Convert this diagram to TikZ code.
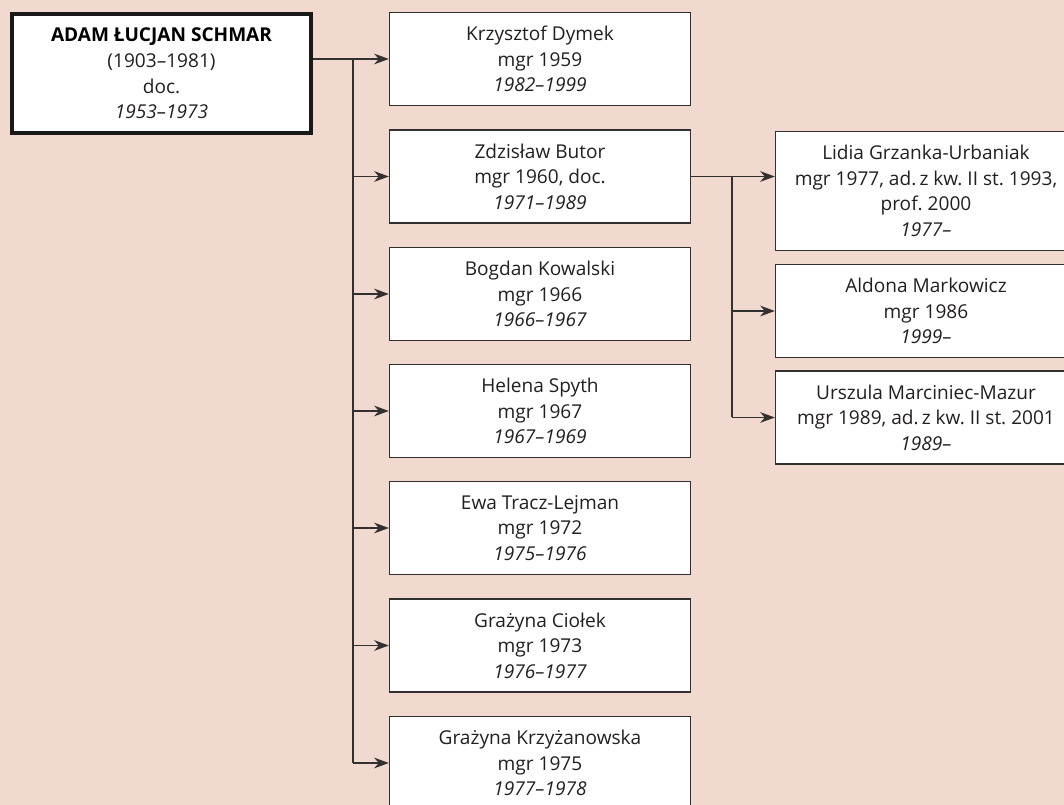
\documentclass[tikz,border=0pt]{standalone}
\usepackage{fontspec}
\setmainfont{Open Sans}
\usetikzlibrary{arrows.meta}
\definecolor{bgpink}{RGB}{241,217,207}
\definecolor{linegray}{RGB}{50,48,48}
\definecolor{textgray}{RGB}{35,31,32}

\begin{document}
\begin{tikzpicture}[x=0.75pt,y=0.75pt,yscale=-1.,xscale=1.,
    every node/.style={font=\fontsize{14.3}{19.2}\selectfont, text=textgray},
    person/.style={draw=linegray, line width=1pt, fill=white, align=center, inner sep=0pt,
        minimum width=225.75pt, minimum height=69.75pt},
    tallperson/.style={person, minimum height=89pt},
    head/.style={draw=black!90, line width=3pt, fill=white, align=center, inner sep=0pt,
        minimum width=224pt, minimum height=89pt},
    link/.style={draw=linegray, line width=1pt},
    arr/.style={link, -{Stealth[length=11pt, width=8pt, inset=3.5pt]}}
  ]
    % background and frame
    \useasboundingbox (0,0) rectangle (1064,805);
    \clip (0,0) rectangle (1064,805);
    \fill [bgpink] (0,0) rectangle (1064,805);

    % Root
    \node [head] (root) at (161.5,73.5) {{\color{black}\bfseries ADAM ŁUCJAN SCHMAR}\\(1903--1981)\\doc.\\\textit{1953--1973}};

    % Students
    \node [person] (dymek) at (540,59) {Krzysztof Dymek\\mgr 1959\\\textit{1982--1999}};
    \node [person] (butor) at (540,176.5) {Zdzisław Butor\\mgr 1960, doc.\\\textit{1971--1989}};
    \node [person] (kowalski) at (540,294) {Bogdan Kowalski\\mgr 1966\\\textit{1966--1967}};
    \node [person] (spyth) at (540,411) {Helena Spyth\\mgr 1967\\\textit{1967--1969}};
    \node [person] (tracz) at (540,528) {Ewa Tracz-Lejman\\mgr 1972\\\textit{1975--1976}};
    \node [person] (ciolek) at (540,645.5) {Grażyna Ciołek\\mgr 1973\\\textit{1976--1977}};
    \node [person] (krzyz) at (540,763) {Grażyna Krzyżanowska\\mgr 1975\\\textit{1977--1978}};

    % Students of Butor
    \node [tallperson] (grzanka) at (926,191) {Lidia Grzanka-Urbaniak\\mgr 1977, ad.\,z kw.\ II st.\ 1993,\\prof.\ 2000\\\textit{1977--}};
    \node [person] (markowicz) at (926,311) {Aldona Markowicz\\mgr 1986\\\textit{1999--}};
    \node [person] (mazur) at (926,417.5) {Urszula Marciniec-Mazur\\mgr 1989, ad.\,z kw.\ II st.\ 2001\\\textit{1989--}};

    % Trunks
    \coordinate (trunkA) at (353,0);
    \coordinate (trunkB) at (732,0);

    % Connectors from root
    \draw [arr] (root.east |- dymek.west) -- (dymek.west);
    \draw [link] (trunkA |- dymek.west) -- (trunkA |- krzyz.west);
    \draw [arr] (trunkA |- butor.west) -- (butor.west);
    \draw [arr] (trunkA |- kowalski.west) -- (kowalski.west);
    \draw [arr] (trunkA |- spyth.west) -- (spyth.west);
    \draw [arr] (trunkA |- tracz.west) -- (tracz.west);
    \draw [arr] (trunkA |- ciolek.west) -- (ciolek.west);
    \draw [arr] (trunkA |- krzyz.west) -- (krzyz.west);

    % Connectors from Butor
    \draw [arr] (butor.east) -- (grzanka.west |- butor.east);
    \draw [link] (trunkB |- butor.east) -- (trunkB |- mazur.west);
    \draw [arr] (trunkB |- markowicz.west) -- (markowicz.west);
    \draw [arr] (trunkB |- mazur.west) -- (mazur.west);

\end{tikzpicture}
\end{document}
